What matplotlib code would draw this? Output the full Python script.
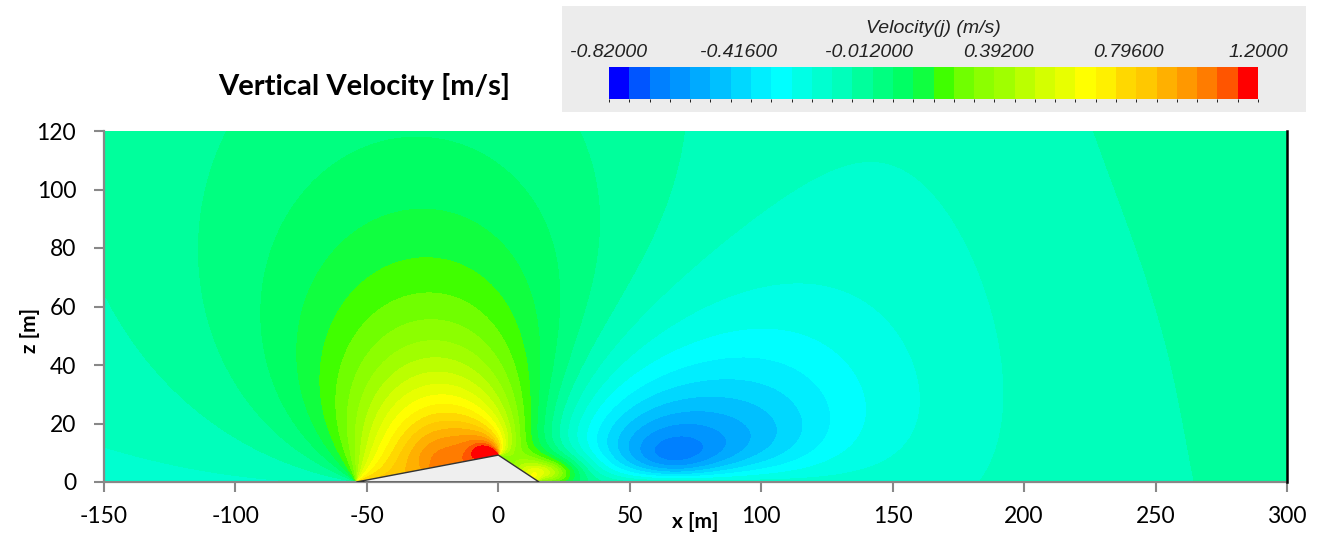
import numpy as np
import matplotlib
matplotlib.use("Agg")
import matplotlib.pyplot as plt
from matplotlib.colors import ListedColormap, BoundaryNorm
from matplotlib.patches import Polygon, Rectangle
from matplotlib.cm import ScalarMappable

plt.rcParams["axes.unicode_minus"] = False

# ---------------- colour scale ----------------
cbar_min, cbar_max, n_bins = -0.82, 1.2, 32
cbar_title = "Velocity(j) (m/s)"
cbar_ticks = [-0.82, -0.416, -0.012, 0.392, 0.796, 1.2]
cbar_ticklabels = ["-0.82000", "-0.41600", "-0.012000", "0.39200", "0.79600", "1.2000"]
bin_colors = ["#0000ff", "#0055ff", "#0080ff", "#0095ff", "#00aaff", "#00c0ff",
              "#00d8ff", "#00eeff", "#00ffff", "#00ffe6", "#00ffd0", "#00ffbb",
              "#00ff9c", "#00ff80", "#00ff64", "#10ff40", "#40ff00", "#70ff00",
              "#8cff00", "#a0ff00", "#bbff00", "#d4ff00", "#e8ff00", "#ffff00",
              "#fff000", "#ffd800", "#ffc800", "#ffb000", "#ff9800", "#ff7c00",
              "#ff5500", "#ff0000"]

# ---------------- geometry ----------------
hill_x = [-54.0, 0.0, 15.5]
hill_z = [0.0, 9.2, 0.0]
slope_split = [0.0, 0.5, 0.85, 1.0]      # pieces of the upwind face
x_range = [-150, 300]
z_range = [0, 120]
x_ticks = [-150, -100, -50, 0, 50, 100, 150, 200, 250, 300]
z_ticks = [0, 20, 40, 60, 80, 100, 120]

# ---------------- vertical velocity (x, z, w) ----------------
obs_x = [-45, -96, 13, -37, -75, 3, -34,
         -119, -95, -3, 22, 8, -130, -140,
         -30, -30, -30, -10,
         -35, -35, -60, -10,
         -50, -44, -31, -18, -7, -63, -13, 1, 4,
         -28, -28, -28, -28,
         -100, -75, -63, -50,
         -119, -97, -82, -66,
         -150, -150, -150, -120, 280, 280, 280, 250, 200,
         250, 270, 290,
         38.7, 32, 215, 225,
         91, 169, 42.5, 213.6,
         110, 54, 163, 96,
         65.5, 65.5, 54.6, 76.3,
         66.5, 66.5, 49.3, 83.6,
         68, 68, 44.4, 91.9,
         70, 70, 37.5, 102, 72,
         26, 13, 32, 36, 38.7, 20,
         7, 13, 16, 26, 17, 18, 26, 32, 20, 22,
         65, 100, 150,
         120, 150, 175, 100, 50,
         120, 140, 165, 185, 220]
obs_z = [101, 60, 60, 81, 60, 60, 67,
         60, 120, 120, 60, 90, 80, 40,
         40, 50, 60, 40,
         100, 120, 100, 100,
         1.7, 3.4, 5.2, 8.2, 10, 12, 11, 12, 14,
         8, 18, 24, 29,
         20, 20, 20, 20,
         40, 40, 40, 40,
         60, 110, 5, 3, 60, 110, 5, 30, 5,
         110, 80, 90,
         120, 60, 120, 60,
         120, 120, 58, 58,
         88, 58, 58, 66,
         15.5, 8.6, 12, 12,
         19.5, 6.8, 13.2, 13.2,
         23.6, 5.8, 14.7, 14.7,
         28, 4.8, 16.4, 16.4, 33,
         29, 23.6, 23.6, 23.6, 3, 40,
         10, 6.5, 12, 12, 4, 5, 6.5, 8, 2, 3.5,
         1, 1, 2,
         30, 30, 15, 45, 40,
         15, 15, 15, 15, 15]
obs_w = [0.064, 0.064, 0.064, 0.127, 0.127, 0.127, 0.19,
         0.0, 0.0, 0.0, 0.0, 0.0, -0.02, -0.03,
         0.53, 0.38, 0.26, 0.35,
         0.07, 0.035, 0.04, 0.04,
         0.6, 0.78, 0.95, 1.05, 1.17, 0.45, 1.08, 1.05, 0.75,
         0.97, 0.88, 0.8, 0.72,
         0.0, 0.2, 0.35, 0.55,
         0.0, 0.064, 0.127, 0.19,
         -0.03, -0.03, -0.07, -0.06, -0.035, -0.035, -0.035, -0.05, -0.09,
         -0.045, -0.04, -0.025,
         -0.0625, -0.0625, -0.0625, -0.0625,
         -0.126, -0.126, -0.126, -0.126,
         -0.189, -0.189, -0.189, -0.252,
         -0.631, -0.631, -0.631, -0.631,
         -0.568, -0.568, -0.568, -0.568,
         -0.505, -0.505, -0.505, -0.505,
         -0.442, -0.442, -0.442, -0.442, -0.379,
         -0.2, 0.09, -0.3, -0.35, -0.2, -0.03,
         0.5, 0.4, 0.2, -0.05, 0.5, 0.45, 0.25, 0.08, 0.45, 0.4,
         -0.3, -0.2, -0.12,
         -0.28, -0.22, -0.19, -0.3, -0.22,
         -0.4, -0.33, -0.27, -0.22, -0.15]


# ---------------- smooth field through the read values ----------------
def seg_angle(X, Z, x0, z0, x1, z1):
    ax_, az_ = x0 - X, z0 - Z
    bx_, bz_ = x1 - X, z1 - Z
    return np.arctan2(ax_ * bz_ - az_ * bx_, ax_ * bx_ + az_ * bz_)


def basis(X, Z):
    X = np.asarray(X, float)
    Z = np.asarray(Z, float)
    cols = [np.ones_like(X)]
    for f0, f1 in zip(slope_split[:-1], slope_split[1:]):
        x0 = hill_x[0] + (hill_x[1] - hill_x[0]) * f0
        z0 = hill_z[0] + (hill_z[1] - hill_z[0]) * f0
        x1 = hill_x[0] + (hill_x[1] - hill_x[0]) * f1
        z1 = hill_z[0] + (hill_z[1] - hill_z[0]) * f1
        cols.append(seg_angle(X, Z, x0, z0, x1, z1))
    cols.append(seg_angle(X, Z, hill_x[1], hill_z[1], hill_x[2], hill_z[2]))
    cols.append(Z / ((X + 25) ** 2 + Z ** 2 + 15 ** 2))
    cols.append(Z / ((X + 5) ** 2 + Z ** 2 + 10 ** 2))
    cols.append(Z / (((X - 65.5) / 2.75) ** 2 + Z ** 2 + 134.0)
                * np.exp(-((X - 65.5) / 80) ** 2 - (Z / 60) ** 2))
    cols.append(Z / (((X - 65.5) / 1.4) ** 2 + Z ** 2 + 134.0))
    cols.append(Z / ((X - 105) ** 2 + Z ** 2 + 25 ** 2))
    cols.append(1 / (1 + np.exp(-(X - 195) / 25)))
    cols.append(1 / (1 + ((X - 18) / 12) ** 2 + ((Z - 3) / 5) ** 2))
    return cols


w_obs = np.asarray(obs_w)
weight = np.where(w_obs < -0.4, 3.0, 1.0)
A = np.column_stack(basis(obs_x, obs_z))
scale = np.abs(A).max(axis=0)
An = A / scale * weight[:, None]
lam = 3e-3
coef = np.linalg.solve(An.T @ An + lam * np.eye(An.shape[1]),
                       An.T @ (w_obs * weight)) / scale

xg = np.linspace(x_range[0], x_range[1], 901)
zg = np.linspace(z_range[0], z_range[1], 481)
XG, ZG = np.meshgrid(xg, zg)
W = sum(c * b for c, b in zip(coef, basis(XG, ZG)))

# ---------------- figure ----------------
W_PX, H_PX = 1326, 538
fig = plt.figure(figsize=(W_PX / 100, H_PX / 100), dpi=100)
font = ["Lato", "DejaVu Sans"]
cfont = ["Liberation Sans Narrow", "Liberation Sans", "DejaVu Sans"]

ax = fig.add_axes([104 / W_PX, 1 - 482 / H_PX, 1183 / W_PX, 351 / H_PX])
edges = np.linspace(cbar_min, cbar_max, n_bins + 1)
cmap = ListedColormap(bin_colors)
cmap.set_under(bin_colors[0])
cmap.set_over(bin_colors[-1])
norm = BoundaryNorm(edges, n_bins)
cs = ax.contourf(XG, ZG, W, levels=edges, cmap=cmap, norm=norm, extend="both")

ax.add_patch(Polygon(np.column_stack([hill_x, hill_z]), closed=True,
                     facecolor="#efefef", edgecolor="#333333", lw=1.0, zorder=3))
ax.plot([x_range[1], x_range[1]], z_range, color="black", lw=1.8, zorder=4, clip_on=False)

ax.set_xlim(x_range)
ax.set_ylim(z_range)
ax.set_xticks(x_ticks)
ax.set_yticks(z_ticks)
for s in ["top", "right"]:
    ax.spines[s].set_visible(False)
for s in ["left", "bottom"]:
    ax.spines[s].set_color("#888888")
    ax.spines[s].set_linewidth(1.6)
ax.tick_params(direction="out", length=7, width=1.5, color="#888888", labelsize=16.5)
ax.tick_params(axis="y", pad=13)
ax.tick_params(axis="x", pad=10)
for lab in ax.get_xticklabels() + ax.get_yticklabels():
    lab.set_family(font)

fig.text(695 / W_PX, 1 - 522 / H_PX, "x [m]", family=font, fontweight="bold",
         fontsize=15, ha="center", va="center")
fig.text(30 / W_PX, 1 - 330 / H_PX, "z [m]", family=font, fontweight="bold",
         fontsize=15, ha="center", va="center", rotation=90)
fig.text(364 / W_PX, 1 - 86 / H_PX, "Vertical Velocity [m/s]", family=font,
         fontweight="bold", fontsize=21, ha="center", va="center")

# legend panel
fig.add_artist(Rectangle((562 / W_PX, 1 - 112 / H_PX), 744 / W_PX, 106 / H_PX,
                         transform=fig.transFigure, facecolor="#ececec",
                         edgecolor="none", zorder=0))
cax = fig.add_axes([609 / W_PX, 1 - 99 / H_PX, 649 / W_PX, 32 / H_PX])
cb = fig.colorbar(ScalarMappable(norm=norm, cmap=cmap), cax=cax,
                  orientation="horizontal", extend="neither")
cb.outline.set_visible(False)
cax.set_xticks([])
cax.set_xlim(cbar_min, cbar_max)
for v, t in zip(cbar_ticks, cbar_ticklabels):
    cax.text(v, 1.45, t, transform=cax.get_xaxis_transform(), ha="center",
             va="center", family=cfont, style="italic", fontsize=14, color="#222222")
cax.text(0.5, 2.2, cbar_title, transform=cax.transAxes, ha="center", va="center",
         family=cfont, style="italic", fontsize=14, color="#222222")

fig.savefig("out.png", dpi=100)
